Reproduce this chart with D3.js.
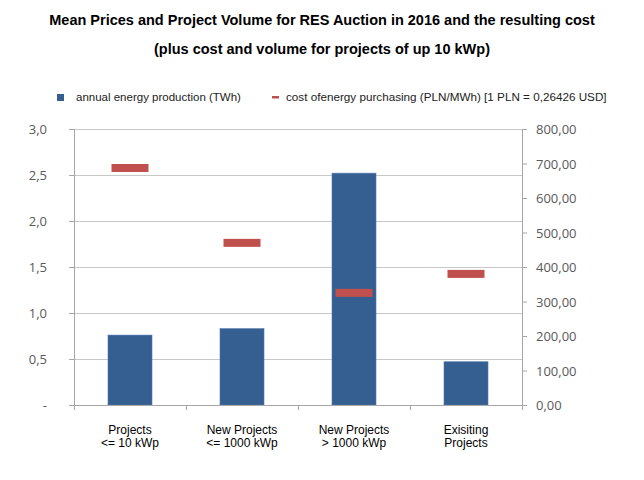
<!DOCTYPE html>
<html>
<head>
<meta charset="utf-8">
<script src="https://d3js.org/d3.v7.min.js"></script>
<style>
  body { margin: 0; background: #fff; }
  text { font-family: "Liberation Sans", Arial, sans-serif; }
  .tick-lbl { font-family: "Open Sans", "Liberation Sans", sans-serif; font-size: 13px; fill: #595959; }
</style>
</head>
<body>
<div id="chart"></div>
<script>
// Données
const categories = [["Projects", "<= 10 kWp"], ["New Projects", "<= 1000 kWp"], ["New Projects", "> 1000 kWp"], ["Exisiting", "Projects"]];
const production = [0.76, 0.83, 2.52, 0.47];
const cost = [687, 470, 325, 380];
const leftTicks = [0, 0.5, 1, 1.5, 2, 2.5, 3];
const rightTicks = [0, 100, 200, 300, 400, 500, 600, 700, 800];

const width = 644, height = 480;
const margin = { top: 129, right: 122, bottom: 75, left: 74 };

const svg = d3.select("#chart").append("svg")
  .attr("width", width).attr("height", height);

// Titre
svg.append("text").attr("x", 322).attr("y", 25).attr("text-anchor", "middle")
  .style("font-size", "14.5px").style("font-weight", "bold")
  .text("Mean Prices and Project Volume for RES Auction in 2016 and the resulting cost");
svg.append("text").attr("x", 322).attr("y", 54).attr("text-anchor", "middle")
  .style("font-size", "14.5px").style("font-weight", "bold")
  .text("(plus cost and volume for projects of up 10 kWp)");

// Échelles
const x = d3.scaleBand().domain(d3.range(categories.length))
  .range([margin.left, width - margin.right]);
const y = d3.scaleLinear().domain([0, 3]).range([height - margin.bottom, margin.top]);
const y2 = d3.scaleLinear().domain([0, 800]).range([height - margin.bottom, margin.top]);

const x0 = margin.left, x1 = width - margin.right, yb = height - margin.bottom;

// Grille
svg.append("g").selectAll("line").data(leftTicks.slice(1)).join("line")
  .attr("x1", x0).attr("x2", x1)
  .attr("y1", d => y(d) + 0.5).attr("y2", d => y(d) + 0.5)
  .attr("stroke", "#c8c8c8").attr("stroke-width", 1);

// Barres
const barW = 44;
svg.append("g").selectAll("rect").data(production).join("rect")
  .attr("x", (d, i) => x(i) + x.bandwidth() / 2 - barW / 2)
  .attr("y", d => y(d))
  .attr("width", barW)
  .attr("height", d => yb - y(d))
  .attr("fill", "#365f91")
  .attr("stroke", "#4f79ad").attr("stroke-width", 0.6);

// Marqueurs de coût
const mW = 37, mH = 8;
svg.append("g").selectAll("rect").data(cost).join("rect")
  .attr("x", (d, i) => x(i) + x.bandwidth() / 2 - mW / 2)
  .attr("y", d => y2(d) - mH / 2)
  .attr("width", mW).attr("height", mH)
  .attr("fill", "#c0504d");

// Axe gauche
const axisColor = "#a6a6a6";
svg.append("line").attr("x1", x0 + 0.5).attr("x2", x0 + 0.5)
  .attr("y1", margin.top).attr("y2", yb + 5).attr("stroke", axisColor);
svg.append("g").selectAll("line").data(leftTicks).join("line")
  .attr("x1", x0 - 5).attr("x2", x0)
  .attr("y1", d => y(d) + 0.5).attr("y2", d => y(d) + 0.5).attr("stroke", axisColor);
svg.append("g").selectAll("text").data(leftTicks).join("text")
  .attr("class", "tick-lbl")
  .attr("x", 47).attr("y", d => y(d) + 5)
  .attr("text-anchor", "end")
  .text(d => d === 0 ? "-" : d.toFixed(1).replace(".", ","));

// Axe droit
svg.append("line").attr("x1", x1 + 0.5).attr("x2", x1 + 0.5)
  .attr("y1", margin.top).attr("y2", yb + 5).attr("stroke", axisColor);
svg.append("g").selectAll("line").data(rightTicks).join("line")
  .attr("x1", x1).attr("x2", x1 + 5)
  .attr("y1", d => y2(d) + 0.5).attr("y2", d => y2(d) + 0.5).attr("stroke", axisColor);
svg.append("g").selectAll("text").data(rightTicks).join("text")
  .attr("class", "tick-lbl")
  .attr("x", 536).attr("y", d => y2(d) + 5)
  .text(d => d.toFixed(2).replace(".", ","));

// Axe des catégories
svg.append("line").attr("x1", x0).attr("x2", x1)
  .attr("y1", yb + 0.5).attr("y2", yb + 0.5).attr("stroke", axisColor);
svg.append("g").selectAll("line").data(d3.range(categories.length + 1)).join("line")
  .attr("x1", d => x0 + d * x.bandwidth() + 0.5).attr("x2", d => x0 + d * x.bandwidth() + 0.5)
  .attr("y1", yb).attr("y2", yb + 5).attr("stroke", axisColor);
const cat = svg.append("g").selectAll("text").data(categories).join("text")
  .attr("x", (d, i) => x(i) + x.bandwidth() / 2)
  .attr("y", 434)
  .attr("text-anchor", "middle")
  .style("font-size", "12px").style("fill", "#000");
cat.append("tspan").attr("x", (d, i) => x(i) + x.bandwidth() / 2).text(d => d[0]);
cat.append("tspan").attr("x", (d, i) => x(i) + x.bandwidth() / 2).attr("dy", 13).text(d => d[1]);

// Légende
svg.append("rect").attr("x", 57).attr("y", 94).attr("width", 7).attr("height", 7).attr("fill", "#365f91");
svg.append("text").attr("x", 76).attr("y", 101).style("font-size", "11.5px").style("fill", "#222")
  .text("annual energy production (TWh)");
svg.append("rect").attr("x", 272).attr("y", 96).attr("width", 7).attr("height", 2.5).attr("fill", "#c0504d");
svg.append("text").attr("x", 286).attr("y", 101).style("font-size", "11.7px").style("fill", "#222")
  .text("cost ofenergy purchasing (PLN/MWh) [1 PLN = 0,26426 USD]");
</script>
</body>
</html>
